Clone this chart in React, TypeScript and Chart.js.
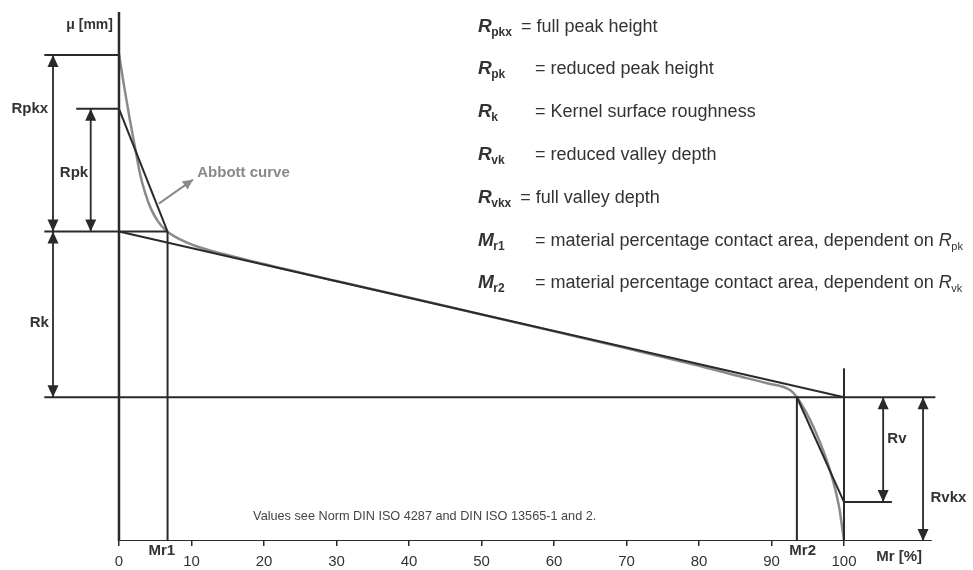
import React, { useEffect, useRef } from "react";
import { Chart, registerables } from "chart.js";

Chart.register(...registerables);

// ---------- data ----------
const X_TICKS = [0, 10, 20, 30, 40, 50, 60, 70, 80, 90, 100];
const MR1 = 6.7;
const MR2 = 93.5;
const H_RPKX = 48.7;
const H_RPK = 43.3;
const H_RK_TOP = 31.0;
const H_RK_BOTTOM = 14.4;
const H_RV = 3.9;
const H_BASE = 0;
const H_AXIS_TOP = 53;
const H_100_TOP = 17.3;
const MR_FULL = 100;

const ABBOTT_MR = [0, 0.7, 1.5, 2.2, 2.9, 3.6, 4.4, 5.4, 6.5, 7.7, 9.4, 11.2, 20, 30, 40, 50, 60, 70, 80, 85, 89.4, 92.6, 93.5, 95.8, 98.1, 99.35, 100];
const ABBOTT_H = [48.8, 45.6, 42.2, 39.5, 36.8, 34.9, 33.3, 32.0, 31.1, 30.5, 29.9, 29.4, 27.75, 26.05, 24.4, 22.7, 21.0, 19.3, 17.55, 16.6, 15.8, 15.1, 14.4, 11.4, 7.0, 3.3, 0];

const DIM_LABELS = ["Rpkx", "Rpk", "Rk", "Rv", "Rvkx"];
const AXIS_X_TITLE = "Mr [%]";
const AXIS_Y_TITLE = "μ [mm]";
const MR_LABELS = ["Mr1", "Mr2"];
const CURVE_LABEL = "Abbott curve";
const FOOTNOTE = "Values see Norm DIN ISO 4287 and DIN ISO 13565-1 and 2.";

const LEGEND_SYMBOLS = ["R", "R", "R", "R", "R", "M", "M"];
const LEGEND_SUBS = ["pkx", "pk", "k", "vk", "vkx", "r1", "r2"];
const LEGEND_TEXTS = [
  "= full peak height",
  "= reduced peak height",
  "= Kernel surface roughness",
  "= reduced valley depth",
  "= full valley depth",
  "= material percentage contact area, dependent on ",
  "= material percentage contact area, dependent on ",
];
const LEGEND_TAIL_SUBS = ["", "", "", "", "", "pk", "vk"];

// ---------- layout / style ----------
const LINE = "#2a2a2a";
const GRAY = "#8a8a8a";
const TEXT = "#333333";
const FONT = '"Liberation Sans", Arial, Helvetica, sans-serif';

const X_LEFT_LONG = -10.3;
const X_LEFT_SHORT = -5.9;
const X_RIGHT_LONG = 112.6;
const X_RIGHT_SHORT = 106.6;
const X_BASE_END = 112.1;
const X_ARROW_OUTER = -9.1;
const X_ARROW_INNER = -3.9;
const X_ARROW_RV = 105.4;
const X_ARROW_RVKX = 110.9;

const seg = (x1: number, y1: number, x2: number, y2: number) => [
  { x: x1, y: y1 },
  { x: x2, y: y2 },
];

const lineDs = (data: any[], extra: any = {}) => ({
  data,
  showLine: true,
  borderColor: LINE,
  backgroundColor: LINE,
  borderWidth: 2,
  pointRadius: 0,
  pointHoverRadius: 0,
  fill: false,
  tension: 0,
  ...extra,
});

const arrowPlugin = {
  id: "arrowHeads",
  afterDatasetsDraw(chart: any) {
    const ctx = chart.ctx;
    chart.data.datasets.forEach((ds: any, i: number) => {
      if (!ds.arrowHeads) return;
      const pts = chart.getDatasetMeta(i).data;
      if (pts.length < 2) return;
      const a = pts[0];
      const b = pts[pts.length - 1];
      const L = ds.arrowLen || 12;
      const W = ds.arrowHalf || 5.5;
      const head = (tip: any, from: any) => {
        const dx = tip.x - from.x;
        const dy = tip.y - from.y;
        const len = Math.hypot(dx, dy) || 1;
        const ux = dx / len;
        const uy = dy / len;
        const bx = tip.x - ux * L;
        const by = tip.y - uy * L;
        ctx.beginPath();
        ctx.moveTo(tip.x, tip.y);
        ctx.lineTo(bx - uy * W, by + ux * W);
        ctx.lineTo(bx + uy * W, by - ux * W);
        ctx.closePath();
        ctx.fill();
      };
      ctx.save();
      ctx.fillStyle = ds.borderColor;
      if (ds.arrowHeads === "both" || ds.arrowHeads === "end") head(b, a);
      if (ds.arrowHeads === "both" || ds.arrowHeads === "start") head(a, b);
      ctx.restore();
    });
  },
};

const textPlugin = {
  id: "diagramText",
  afterDraw(chart: any) {
    const ctx = chart.ctx;
    const sx = chart.scales.x;
    const sy = chart.scales.y;
    const px = (v: number) => sx.getPixelForValue(v);
    const py = (v: number) => sy.getPixelForValue(v);
    ctx.save();
    const put = (t: string, x: number, y: number, font: string, color: string, align: CanvasTextAlign = "center") => {
      ctx.font = font;
      ctx.fillStyle = color;
      ctx.textAlign = align;
      ctx.textBaseline = "middle";
      ctx.fillText(t, x, y);
    };
    const bold = `bold 15px ${FONT}`;
    // dimension labels
    put(DIM_LABELS[0], px(-12.3), py(43.3), bold, TEXT);
    put(DIM_LABELS[1], px(-6.2), py(36.9), bold, TEXT);
    put(DIM_LABELS[2], px(-11.0), py(21.9), bold, TEXT);
    put(DIM_LABELS[3], px(107.3), py(10.2), bold, TEXT);
    put(DIM_LABELS[4], px(114.4), py(4.3), bold, TEXT);
    // Mr labels
    put(MR_LABELS[0], px(MR1 - 0.8), py(H_BASE) + 10, bold, TEXT);
    put(MR_LABELS[1], px(MR2 + 0.8), py(H_BASE) + 10, bold, TEXT);
    put(AXIS_X_TITLE, px(107.6), py(H_BASE) + 16, bold, TEXT);
    put(AXIS_Y_TITLE, px(0) - 6, py(H_AXIS_TOP) + 13, `bold 14px ${FONT}`, TEXT, "right");
    put(CURVE_LABEL, px(10.8), py(36.9), `bold 15px ${FONT}`, GRAY, "left");
    put(FOOTNOTE, px(18.5), py(2.5), `12.7px ${FONT}`, "#444444", "left");

    // legend block
    const lx = 478;
    const top = 25;
    const step = 42.8;
    const tab = 535;
    ctx.textAlign = "left";
    ctx.textBaseline = "alphabetic";
    LEGEND_SYMBOLS.forEach((sym, i) => {
      const base = top + i * step + 6.5;
      ctx.fillStyle = TEXT;
      ctx.font = `italic bold 19px ${FONT}`;
      ctx.fillText(sym, lx, base);
      let x = lx + ctx.measureText(sym).width - 0.5;
      ctx.font = `bold 12px ${FONT}`;
      ctx.fillText(LEGEND_SUBS[i], x, base + 4);
      x += ctx.measureText(LEGEND_SUBS[i]).width;
      const eqX = LEGEND_SUBS[i].length >= 3 ? x + 9 : tab;
      ctx.font = `18px ${FONT}`;
      ctx.fillText(LEGEND_TEXTS[i], eqX, base);
      if (LEGEND_TAIL_SUBS[i]) {
        let tx = eqX + ctx.measureText(LEGEND_TEXTS[i]).width;
        ctx.font = `italic 18px ${FONT}`;
        ctx.fillText("R", tx, base);
        tx += ctx.measureText("R").width - 0.5;
        ctx.font = `11px ${FONT}`;
        ctx.fillText(LEGEND_TAIL_SUBS[i], tx, base + 4);
      }
    });
    ctx.restore();
  },
};

export default function App() {
  const ref = useRef<HTMLCanvasElement | null>(null);
  useEffect(() => {
    if (!ref.current) return;
    const abbott = ABBOTT_MR.map((x, i) => ({ x, y: ABBOTT_H[i] }));
    const datasets: any[] = [
      // axes
      lineDs(seg(0, H_BASE, 0, H_AXIS_TOP), { borderWidth: 2.5 }),
      lineDs(seg(0, H_BASE, X_BASE_END, H_BASE), { borderWidth: 2.2 }),
      // horizontal reference lines
      lineDs(seg(X_LEFT_LONG, H_RPKX, 0, H_RPKX)),
      lineDs(seg(X_LEFT_SHORT, H_RPK, 0, H_RPK)),
      lineDs(seg(X_LEFT_LONG, H_RK_TOP, MR1, H_RK_TOP)),
      lineDs(seg(X_LEFT_LONG, H_RK_BOTTOM, X_RIGHT_LONG, H_RK_BOTTOM)),
      lineDs(seg(MR_FULL, H_RV, X_RIGHT_SHORT, H_RV)),
      // verticals
      lineDs(seg(MR1, H_BASE, MR1, H_RK_TOP)),
      lineDs(seg(MR2, H_BASE, MR2, H_RK_BOTTOM)),
      lineDs(seg(MR_FULL, H_BASE, MR_FULL, H_100_TOP)),
      // kernel line and triangles
      lineDs(seg(0, H_RK_TOP, MR_FULL, H_RK_BOTTOM)),
      lineDs(seg(0, H_RPK, MR1, H_RK_TOP)),
      lineDs(seg(MR2, H_RK_BOTTOM, MR_FULL, H_RV)),
      // dimension arrows
      lineDs(seg(X_ARROW_OUTER, H_RPKX, X_ARROW_OUTER, H_RK_TOP), { arrowHeads: "both", borderWidth: 1.8 }),
      lineDs(seg(X_ARROW_INNER, H_RPK, X_ARROW_INNER, H_RK_TOP), { arrowHeads: "both", borderWidth: 1.8 }),
      lineDs(seg(X_ARROW_OUTER, H_RK_TOP, X_ARROW_OUTER, H_RK_BOTTOM), { arrowHeads: "both", borderWidth: 1.8 }),
      lineDs(seg(X_ARROW_RV, H_RK_BOTTOM, X_ARROW_RV, H_RV), { arrowHeads: "both", borderWidth: 1.8 }),
      lineDs(seg(X_ARROW_RVKX, H_RK_BOTTOM, X_ARROW_RVKX, H_BASE), { arrowHeads: "both", borderWidth: 1.8 }),
      // Abbott pointer
      lineDs(seg(5.5, 33.8, 10.2, 36.2), { borderColor: GRAY, backgroundColor: GRAY, arrowHeads: "end", arrowLen: 10, arrowHalf: 5, borderWidth: 2 }),
      // Abbott curve (drawn underneath)
      lineDs(abbott, { borderColor: GRAY, backgroundColor: GRAY, borderWidth: 2.5, cubicInterpolationMode: "monotone" }),
    ];
    const chart = new Chart(ref.current, {
      type: "scatter",
      data: { datasets },
      options: {
        animation: false,
        responsive: false,
        events: [],
        layout: { padding: { top: 12, left: 0, right: 0, bottom: -8 } },
        plugins: { legend: { display: false }, tooltip: { enabled: false } },
        scales: {
          x: {
            type: "linear",
            min: -16.41,
            max: 117.79,
            afterBuildTicks: (axis: any) => {
              axis.ticks = X_TICKS.map((v) => ({ value: v }));
            },
            border: { display: false },
            grid: { display: true, drawOnChartArea: false, drawTicks: true, tickLength: 5, color: LINE, lineWidth: 1.5 },
            ticks: { color: TEXT, font: { family: FONT, size: 15 }, padding: 7, maxRotation: 0, autoSkip: false },
          },
          y: {
            type: "linear",
            display: false,
            min: 0,
            max: 53,
          },
        },
      } as any,
      plugins: [arrowPlugin, textPlugin],
    });
    return () => chart.destroy();
  }, []);
  return (
    <div style={{ position: "fixed", left: 0, top: 0, width: 973, height: 570, background: "#fff" }}>
      <canvas ref={ref} width={973} height={570} />
    </div>
  );
}
